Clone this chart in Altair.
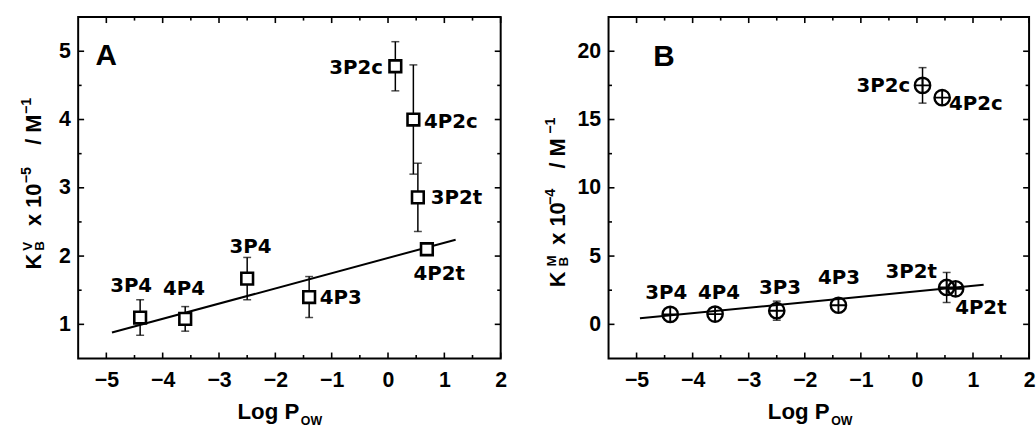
import altair as alt
import pandas as pd

# ---------------- Panel A data ----------------
a_names = ["3P4", "4P4", "3P4", "4P3", "3P2c", "4P2c", "3P2t", "4P2t"]
a_logp = [-4.40, -3.60, -2.50, -1.40, 0.13, 0.45, 0.53, 0.69]
a_kb = [1.10, 1.08, 1.67, 1.40, 4.78, 4.00, 2.86, 2.10]
a_err = [0.26, 0.18, 0.31, 0.30, 0.36, 0.80, 0.50, 0.00]
a_lab_x = [-4.56, -3.62, -2.44, -1.21, -0.09, 0.64, 0.76, 0.91]
a_lab_y = [1.58, 1.53, 2.15, 1.40, 4.77, 3.98, 2.87, 1.75]
a_lab_align = ["center", "center", "center", "left", "right", "left", "left", "center"]
a_fit_x = [-4.90, 1.20]
a_fit_y = [0.88, 2.24]

# ---------------- Panel B data ----------------
b_names = ["3P4", "4P4", "3P3", "4P3", "3P2c", "4P2c", "3P2t", "4P2t"]
b_logp = [-4.40, -3.60, -2.50, -1.40, 0.10, 0.45, 0.53, 0.69]
b_kb = [0.73, 0.75, 1.00, 1.40, 17.5, 16.6, 2.70, 2.60]
b_err = [0.00, 0.00, 0.70, 0.00, 1.30, 0.00, 1.10, 0.00]
b_lab_x = [-4.47, -3.53, -2.44, -1.39, -0.12, 0.57, -0.10, 1.14]
b_lab_y = [2.36, 2.36, 2.72, 3.45, 17.53, 16.2, 3.93, 1.27]
b_lab_align = ["center", "center", "center", "center", "right", "left", "center", "center"]
b_fit_x = [-4.94, 1.19]
b_fit_y = [0.44, 2.90]

# ---------------- Axes ----------------
x_domain = [-5.5, 2.0]
x_major = [-5, -4, -3, -2, -1, 0, 1, 2]
x_minor = [-4.5, -3.5, -2.5, -1.5, -0.5, 0.5, 1.5]
a_y_domain = [0.5, 5.5]
a_y_major = [1, 2, 3, 4, 5]
a_y_minor = [1.5, 2.5, 3.5, 4.5]
b_y_domain = [-2.5, 22.5]
b_y_major = [0, 5, 10, 15, 20]
b_y_minor = [2.5, 7.5, 12.5, 17.5]

W_A, W_B, H = 427, 425, 345
TICK_FONT = "Liberation Sans"
LABEL_FONT = "DejaVu Sans"
TITLE_FONT = "Liberation Sans"


def one():
    return alt.Data(values=[{}])


def piece(text, x, y, size, angle=0, font=TITLE_FONT):
    return alt.Chart(one()).mark_text(
        text=text, font=font, fontSize=size, fontWeight="bold", color="black",
        align="left", baseline="alphabetic", angle=angle,
    ).encode(x=alt.value(x), y=alt.value(y))


def panel(names, logp, kb, err, lab_x, lab_y, lab_align, fit_x, fit_y,
          y_domain, y_major, y_minor, width, marker, letter, letter_pos,
          ytitle_pieces):
    df = pd.DataFrame({"name": names, "logp": logp, "kb": kb, "err": err,
                       "lx": lab_x, "ly": lab_y, "align": lab_align})
    fit = pd.DataFrame({"logp": fit_x, "kb": fit_y})

    xs = alt.Scale(domain=x_domain, nice=False, zero=False)
    ys = alt.Scale(domain=y_domain, nice=False, zero=False)
    xaxis = alt.Axis(values=x_major, ticks=False, tickSize=0, domain=False, grid=False,
                     labelFont=TICK_FONT, labelFontSize=21.5, labelFontWeight="bold",
                     labelColor="black", labelPadding=11, title=None, labelFlush=False)
    yaxis = alt.Axis(values=y_major, ticks=False, tickSize=0, domain=False, grid=False,
                     labelFont=TICK_FONT, labelFontSize=21.5, labelFontWeight="bold",
                     labelColor="black", labelPadding=8, title=None, labelFlush=False)

    def X(f):
        return alt.X(f, type="quantitative", scale=xs, axis=xaxis)

    def Y(f):
        return alt.Y(f, type="quantitative", scale=ys, axis=yaxis)

    layers = []
    # fitted line
    layers.append(alt.Chart(fit).mark_line(color="black", strokeWidth=2)
                  .encode(x=X("logp"), y=Y("kb")))
    # error bars
    eb = (alt.Chart(df).transform_filter("datum.err > 0")
          .transform_calculate(lo="datum.kb - datum.err", hi="datum.kb + datum.err"))
    layers.append(eb.mark_rule(color="black", strokeWidth=1.5)
                  .encode(x=X("logp"), y=Y("lo:Q"), y2="hi:Q"))
    layers.append(eb.transform_fold(["lo", "hi"], as_=["end", "v"])
                  .mark_tick(orient="horizontal", size=8, thickness=1.5, color="black")
                  .encode(x=X("logp"), y=Y("v")))
    # markers
    if marker == "square":
        layers.append(alt.Chart(df).mark_point(shape="square", size=140, filled=True,
                                               fill="white", stroke="black",
                                               strokeWidth=2.6, opacity=1)
                      .encode(x=X("logp"), y=Y("kb")))
    else:
        layers.append(alt.Chart(df).mark_point(shape="circle", size=240, filled=False,
                                               stroke="black", strokeWidth=2.4, opacity=1)
                      .encode(x=X("logp"), y=Y("kb")))
        layers.append(alt.Chart(df).mark_point(shape="M-1,0L1,0M0,-1L0,1", size=240,
                                               filled=False, stroke="black",
                                               strokeWidth=1.9, opacity=1)
                      .encode(x=X("logp"), y=Y("kb")))
    # point labels
    for al in ["left", "center", "right"]:
        layers.append(alt.Chart(df).transform_filter(f"datum.align == '{al}'")
                      .mark_text(font=LABEL_FONT, fontSize=20, fontWeight="bold",
                                 color="black", align=al, baseline="middle", dy=1)
                      .encode(x=X("lx"), y=Y("ly"), text="name:N"))
    # inward ticks on four sides
    for vals, ln in [(x_major, 6), (x_minor, 3.5)]:
        t = pd.DataFrame({"v": vals})
        layers.append(alt.Chart(t).mark_rule(color="black", strokeWidth=1.6)
                      .encode(x=X("v"), y=alt.value(H), y2=alt.value(H - ln)))
        layers.append(alt.Chart(t).mark_rule(color="black", strokeWidth=1.6)
                      .encode(x=X("v"), y=alt.value(0), y2=alt.value(ln)))
    for vals, ln in [(y_major, 6), (y_minor, 3.5)]:
        t = pd.DataFrame({"v": vals})
        layers.append(alt.Chart(t).mark_rule(color="black", strokeWidth=1.6)
                      .encode(y=Y("v"), x=alt.value(0), x2=alt.value(ln)))
        layers.append(alt.Chart(t).mark_rule(color="black", strokeWidth=1.6)
                      .encode(y=Y("v"), x=alt.value(width), x2=alt.value(width - ln)))
    # panel letter
    layers.append(alt.Chart(one()).mark_text(text=letter, font="Liberation Sans",
                                             fontSize=30, fontWeight="bold", color="black",
                                             align="center", baseline="middle")
                  .encode(x=alt.X(datum=letter_pos[0], type="quantitative", scale=xs, axis=xaxis),
                          y=alt.Y(datum=letter_pos[1], type="quantitative", scale=ys, axis=yaxis)))
    # y title pieces (rotated)
    for (txt, px, py, sz) in ytitle_pieces:
        layers.append(piece(txt, px, py, sz, angle=270))
    # x title
    layers.append(piece("Log P", 161, 406, 22.5))
    layers.append(piece("OW", 225, 412, 12.5))

    return alt.layer(*layers).properties(width=width, height=H)


a_title = [("K", -38, 255, 22), ("V", -47, 236, 13.5), ("B", -35, 236, 13.5),
           ("x 10", -38, 211, 22), ("\u22125", -48, 168, 14.5),
           ("/ M", -38, 129, 22), ("\u22121", -48, 98, 14.5)]
b_title = [("K", -44, 273, 22), ("M", -53, 252, 13.5), ("B", -41, 252, 13.5),
           ("x 10", -44, 230, 22), ("\u22124", -54, 190, 14.5),
           ("/ M", -44, 153, 22), ("\u22121", -54, 118, 14.5)]

pa = panel(a_names, a_logp, a_kb, a_err, a_lab_x, a_lab_y, a_lab_align, a_fit_x, a_fit_y,
           a_y_domain, a_y_major, a_y_minor, W_A, "square", "A", (-5.0, 4.93), a_title)
pb = panel(b_names, b_logp, b_kb, b_err, b_lab_x, b_lab_y, b_lab_align, b_fit_x, b_fit_y,
           b_y_domain, b_y_major, b_y_minor, W_B, "circle", "B", (-4.51, 19.6), b_title)

chart = (alt.hconcat(pa, pb, spacing=109, bounds="flush")
         .properties(padding={"left": 18, "top": 13, "right": 0, "bottom": 0},
                     background="white")
         .configure_view(stroke="black", strokeWidth=2))

chart.save("out.html", embed_options={"renderer": "svg", "actions": False})
